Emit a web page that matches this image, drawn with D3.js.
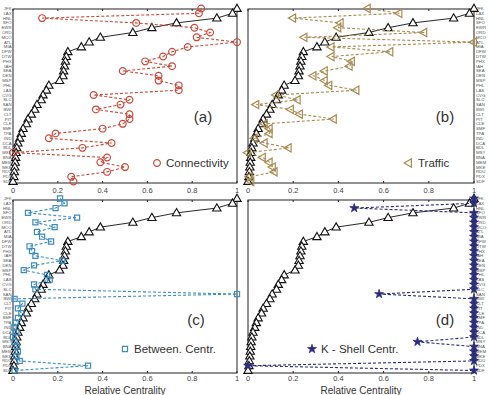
<!DOCTYPE html>
<html>
<head>
<meta charset="utf-8">
<script src="https://cdn.jsdelivr.net/npm/d3@7"></script>
<style>
  body { margin: 0; background: #fff; }
  svg { display: block; font-family: "Liberation Sans", Arial, sans-serif; }
</style>
</head>
<body>
<div id="chart"></div>
<script>
// Airports, ordered by the reference ranking (black triangles)
var airports = ["JFK","LAX","HNL","SFO","EWR","ORD","MCO","ATL","MIA","DFW","DTW","PHX","IAH",
  "SEA","DEN","MSP","PHL","LAS","CVG","SLC","SAN","BWI","CLT","PIT","CLE","SMF","TPA","IND",
  "DCA","BDL","MSY","BNA","MEM","MKE","RDU","PDX","SDF"];

// reference ranking curve (same in all panels)
var reference = [1.0,0.98,0.91,0.73,0.62,0.535,0.39,0.34,0.305,0.245,0.238,0.234,0.23,0.226,
  0.223,0.208,0.16,0.149,0.134,0.126,0.107,0.097,0.082,0.067,0.06,0.045,0.037,0.03,0.022,
  0.017,0.014,0.012,0.01,0.008,0.006,0.004,0.0];

var connectivity = [0.84,0.83,0.13,0.55,0.81,0.88,0.82,1.0,0.78,0.71,0.67,0.59,0.71,0.49,0.65,
  0.65,0.74,0.74,0.36,0.52,0.48,0.37,0.52,0.52,0.49,0.40,0.19,0.16,0.44,0.31,0.0,0.42,0.39,
  0.50,0.42,0.26,0.27];

var traffic = [0.53,0.67,0.20,0.41,0.40,0.78,0.25,1.0,0.37,0.63,0.37,0.46,0.45,0.34,0.29,0.34,
  0.36,0.48,0.125,0.22,0.037,0.19,0.23,0.38,0.074,0.096,0.096,0.03,0.074,0.18,0.0,0.066,0.096,
  0.11,0.118,0.007,0.015];

var betweenness = [0.21,0.23,0.19,0.067,0.286,0.10,0.186,0.107,0.13,0.17,0.074,0.085,0.10,0.22,
  0.094,0.048,0.152,0.164,0.094,0.10,1.0,0.007,0.042,0.022,0.037,0.022,0.012,0.003,0.015,0.0,
  0.007,0.018,0.022,0.015,0.03,0.335,0.007];

var kshell = [1,1,0.47,1,1,1,1,1,1,1,1,1,1,1,1,1,1,1,1,1,0.58,1,1,1,1,1,1,1,1,1,0.75,1,1,1,1,0,1];

var xTicks = [0, 0.2, 0.4, 0.6, 0.8, 1];

var panels = [
  {tag: "(a)", values: connectivity, name: "Connectivity", color: "#c9493a", shape: "circle",
   x0: 13, x1: 237, top: 9, bottom: 183, rowTop: 8.5, rowBot: 181.5, side: "left",
   tickY: 192.5, title: false, tagX: 203, tagY: 122, legX: 157, legY: 163},
  {tag: "(b)", values: traffic, name: "Traffic", color: "#a88c52", shape: "left",
   x0: 248, x1: 474, top: 9, bottom: 183, rowTop: 8.5, rowBot: 181.5, side: "right",
   tickY: 192.5, title: false, tagX: 445, tagY: 122, legX: 409, legY: 163},
  {tag: "(c)", values: betweenness, name: "Between. Centr.", color: "#3c8dc2", shape: "square",
   x0: 13, x1: 237, top: 200, bottom: 373, rowTop: 198.5, rowBot: 370.5, side: "left",
   tickY: 381, title: true, tagX: 196, tagY: 325, legX: 125, legY: 349},
  {tag: "(d)", values: kshell, name: "K - Shell  Centr.", color: "#2d2c7c", shape: "star",
   x0: 248, x1: 474, top: 200, bottom: 373, rowTop: 198.5, rowBot: 370.5, side: "right",
   tickY: 381, title: true, tagX: 445, tagY: 325, legX: 312, legY: 349}
];

var svg = d3.select("#chart").append("svg")
  .attr("width", 492)
  .attr("height", 395);

function markerPath(shape) {
  if (shape == "circle") return d3.symbol().type(d3.symbolCircle).size(36)();
  if (shape == "square") return d3.symbol().type(d3.symbolSquare).size(26)();
  if (shape == "star") return d3.symbol().type(d3.symbolStar).size(24)();
  return d3.symbol().type(d3.symbolTriangle).size(30)();
}

panels.forEach(function(p) {
  var xScale = d3.scaleLinear().domain([0, 1]).range([p.x0, p.x1]),
    yScale = d3.scalePoint().domain(airports).range([p.rowTop, p.rowBot]);

  var g = svg.append("g");

  // frame
  g.append("rect")
    .attr("x", p.x0).attr("y", p.top)
    .attr("width", p.x1 - p.x0).attr("height", p.bottom - p.top)
    .attr("fill", "none").attr("stroke", "#222").attr("stroke-width", 1);

  // small inward ticks
  xTicks.forEach(function(t) {
    g.append("line").attr("x1", xScale(t)).attr("x2", xScale(t))
      .attr("y1", p.bottom).attr("y2", p.bottom - 2).attr("stroke", "#222");
    g.append("line").attr("x1", xScale(t)).attr("x2", xScale(t))
      .attr("y1", p.top).attr("y2", p.top + 2).attr("stroke", "#222");
  });

  // x tick labels
  g.selectAll("text.xt").data(xTicks).enter().append("text")
    .attr("class", "xt")
    .attr("x", d => xScale(d))
    .attr("y", p.tickY)
    .attr("text-anchor", "middle")
    .attr("font-size", 7.5)
    .attr("fill", "#444")
    .text(d => d);

  if (p.title)
    g.append("text")
      .attr("x", (p.x0 + p.x1) / 2).attr("y", 393.5)
      .attr("text-anchor", "middle").attr("font-size", 10).attr("fill", "#333")
      .text("Relative Centrality");

  // airport labels
  g.selectAll("text.ap").data(airports).enter().append("text")
    .attr("class", "ap")
    .attr("x", p.side == "left" ? p.x0 - 1.5 : p.x1 + 2)
    .attr("y", d => yScale(d) + 1.5)
    .attr("text-anchor", p.side == "left" ? "end" : "start")
    .attr("font-size", 4.3)
    .attr("fill", "#555")
    .text(d => d);

  // reference curve
  g.append("path")
    .datum(reference)
    .attr("fill", "none").attr("stroke", "#111").attr("stroke-width", 0.9)
    .attr("d", d3.line().x(d => xScale(d)).y((d, i) => yScale(airports[i])));
  g.selectAll("path.ref").data(reference).enter().append("path")
    .attr("class", "ref")
    .attr("d", markerPath("tri"))
    .attr("transform", (d, i) => "translate(" + xScale(d) + "," + (yScale(airports[i]) + 0.5) + ")")
    .attr("fill", "#fff").attr("stroke", "#111").attr("stroke-width", 1.1);

  // measured series
  g.append("path")
    .datum(p.values)
    .attr("fill", "none").attr("stroke", p.color).attr("stroke-width", 1.1)
    .attr("stroke-dasharray", "3,2")
    .attr("d", d3.line().x(d => xScale(d)).y((d, i) => yScale(airports[i])));

  var filled = p.shape == "star";
  var rot = p.shape == "left" ? " rotate(-90)" : "";
  g.selectAll("path.pt").data(p.values).enter().append("path")
    .attr("class", "pt")
    .attr("d", markerPath(p.shape))
    .attr("transform", (d, i) => "translate(" + xScale(d) + "," + yScale(airports[i]) + ")" + rot)
    .attr("fill", filled ? p.color : "#fff").attr("fill-opacity", filled ? 1 : 0)
    .attr("stroke", p.color).attr("stroke-width", filled ? 0.8 : 1.2);

  // legend
  g.append("path")
    .attr("d", markerPath(p.shape))
    .attr("transform", "translate(" + p.legX + "," + p.legY + ")" + rot)
    .attr("fill", filled ? p.color : "none")
    .attr("stroke", p.color).attr("stroke-width", filled ? 0.8 : 1.2);
  g.append("text")
    .attr("x", p.legX + 9).attr("y", p.legY + 4.2)
    .attr("font-size", 11.5).attr("fill", "#333")
    .text(p.name);

  // panel tag
  g.append("text")
    .attr("x", p.tagX).attr("y", p.tagY)
    .attr("text-anchor", "middle").attr("font-size", 15).attr("fill", "#333")
    .text(p.tag);
});
</script>
</body>
</html>
